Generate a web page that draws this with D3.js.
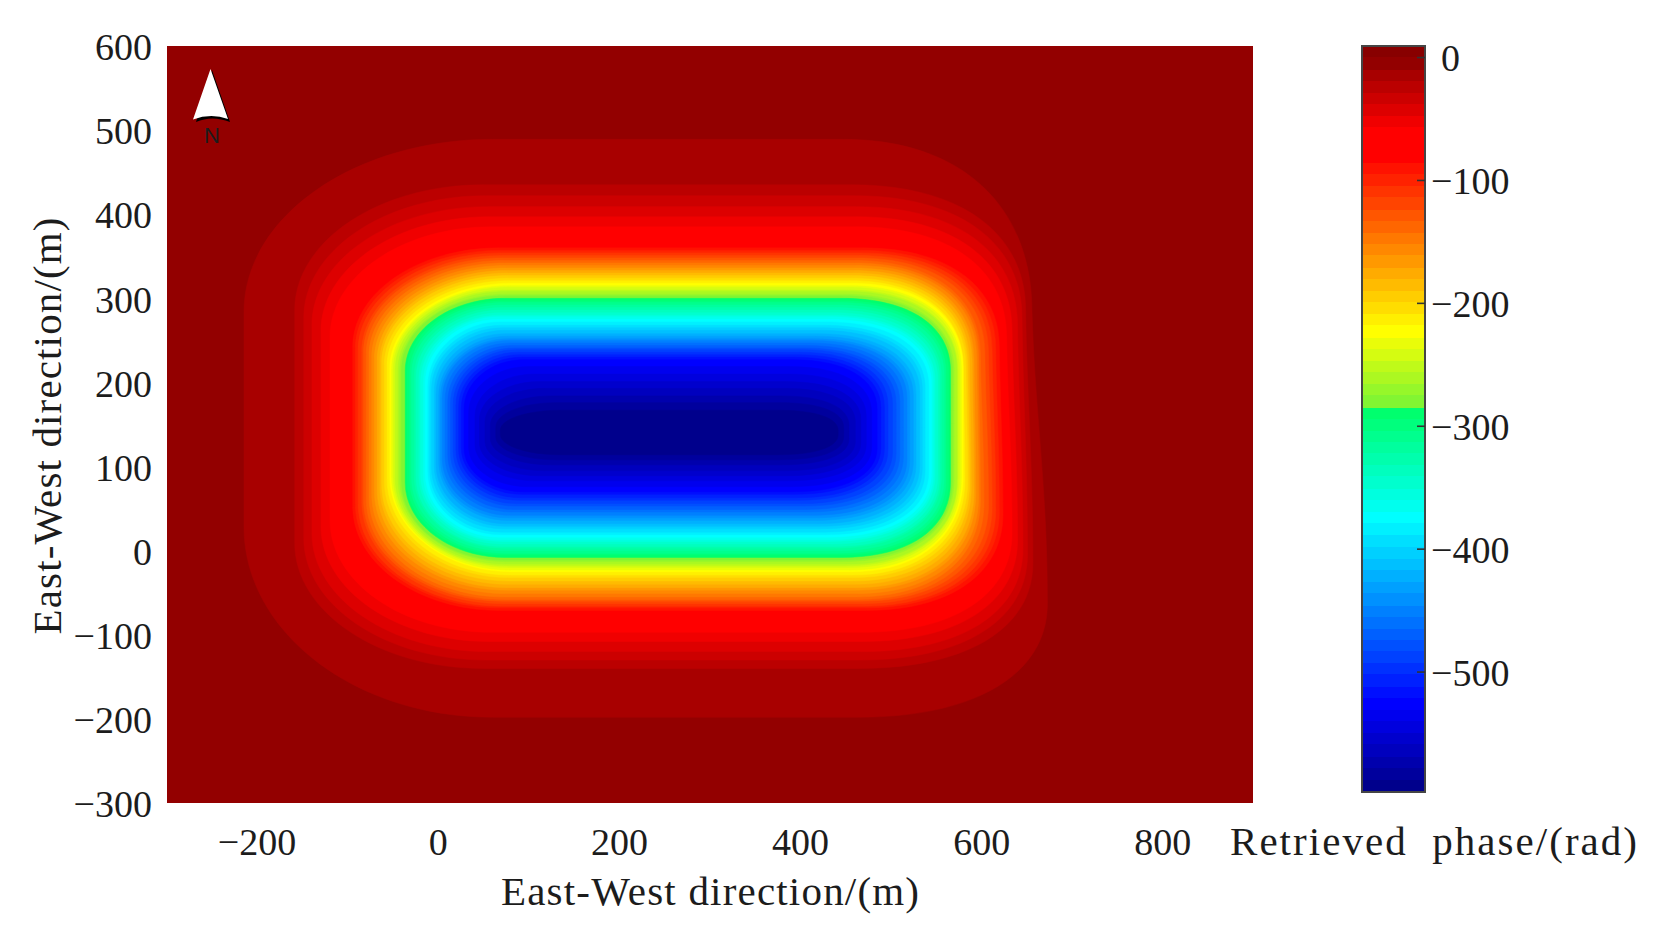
<!DOCTYPE html>
<html>
<head>
<meta charset="utf-8">
<script src="https://d3js.org/d3.v7.min.js"></script>
<style>
html,body{margin:0;padding:0;background:#fff;}
svg{display:block;}
text{font-family:"Liberation Serif",serif;fill:#1c1c1c;}
</style>
</head>
<body>
<svg id="c" width="1656" height="935"></svg>
<script>
// tick labels
const xTicks = [-200, 0, 200, 400, 600, 800];
const yTicks = [-300, -200, -100, 0, 100, 200, 300, 400, 500, 600];
const barTicks = [0, -100, -200, -300, -400, -500];
const xTitle = "East-West direction/(m)";
const yTitle = "East-West direction/(m)";
const barTitle = "Retrieved  phase/(rad)";

// colour stops
const stopValues = [4, -5, -15, -24, -34, -43, -53, -62, -81, -223, -280, -290, -375, -451, -526, -593];
const stopColors = ["#880000","#930000","#a80000","#bb0000","#cc0000","#dd0000","#f00000","#ff0000","#ff0000","#ffff00","#82f532","#00ff6e","#00ffff","#0080ff","#0000ff","#00008c"];

// 64 colour-bar levels (rad)
const barLevels = [4,-5,-15,-24,-34,-43,-53,-62,-72,-81,-91,-100,-110,-119,-129,-138,-148,-157,-166,-176,-185,-195,-204,-214,-223,-233,-242,-252,-261,-271,-280,-290,-299,-309,-318,-327,-337,-346,-356,-365,-375,-384,-394,-403,-413,-422,-432,-441,-451,-460,-470,-479,-488,-498,-507,-517,-526,-536,-545,-555,-564,-574,-583,-593];

// background level of the map
const mapBackground = -5;

// closed iso-phase contours (outer to inner), metres
const contourLevels = [-15,-24,-34,-43,-53,-62,-72,-81,-91,-100,-110,-119,-129,-138,-148,-157,-166,-176,-185,-195,-204,-214,-223,-233,-242,-252,-261,-271,-280,-290,-299,-309,-318,-327,-337,-346,-356,-365,-375,-384,-394,-403,-413,-422,-432,-441,-451,-460,-470,-479,-488,-498,-507,-517,-526,-536,-545,-555,-564,-574,-583,-593];
const contourLeft = [-215,-159,-149,-140,-130,-120,-109,-98,-95,-92,-89,-85,-83,-80,-77,-74,-71,-68,-65,-63,-60,-57,-54,-52,-50,-48,-45,-43,-41,-37,-35,-32,-30,-27,-25,-22,-20,-17,-15,-12,-10,-8,-5,-3,0,2,4,7,10,13,16,19,22,25,28,33,40,45,51,57,63,68];
const contourRight = [672,656,650,645,639,633,630,627,623,619,615,611,607,602,598,596,593,591,588,586,584,581,579,577,575,573,572,569,567,565,563,560,558,555,553,551,548,546,544,541,537,534,531,527,524,520,517,513,509,505,501,496,492,488,484,478,472,466,460,453,447,441];
const contourRightUpper = [655,648,644,639,633,627,624,621,619,615,611,607,603,598,596,594,591,589,586,584,582,579,579,577,575,573,572,569,567,565,563,560,558,555,553,551,548,546,544,541,537,534,531,527,524,520,517,513,509,505,501,496,492,488,484,478,472,466,460,453,447,441];
const contourTop = [489,435,422,409,397,385,374,363,360,357,354,351,348,345,342,339,336,333,330,327,324,321,318,315,313,310,308,305,303,300,297,295,292,289,286,283,280,278,275,272,268,265,262,258,255,252,250,247,244,241,239,236,233,230,227,219,210,201,193,184,176,167];
const contourBottom = [-198,-140,-130,-120,-108,-97,-85,-74,-71,-68,-66,-63,-60,-58,-55,-51,-47,-44,-40,-36,-32,-29,-25,-23,-20,-18,-16,-13,-11,-8,-5,-3,0,3,5,8,11,13,16,19,22,26,29,32,36,39,42,46,49,53,56,60,63,67,70,76,83,89,95,102,108,114];
// corner sizes of those contours, metres
const cornerLeft = [274,208,201,194,186,178,171,164,162,160,158,156,154,152,150,148,146,144,142,140,138,136,135,131,127,124,120,117,113,110,107,104,101,98,95,92,89,85,82,81,80,79,78,77,76,75,74,73,72,71,70,69,68,67,66,66,66,66,66,66,66,66];
const cornerRight = [208,192,185,178,172,166,159,153,151,149,146,144,141,139,137,134,132,131,129,128,127,125,124,124,123,123,122,122,121,120,119,119,118,118,117,117,116,116,115,114,113,111,110,109,108,106,105,104,103,101,100,98,96,95,93,90,86,82,78,74,70,66];
const cornerTop = [205,149,145,141,136,131,125,119,118,117,116,115,113,112,111,110,109,108,106,105,104,102,101,99,97,95,93,91,88,86,85,84,83,82,81,80,79,78,77,76,75,74,73,72,71,70,69,68,67,66,65,63,62,60,59,55,50,45,40,35,29,24];
const cornerBottom = [226,149,145,141,137,133,129,125,124,123,122,121,120,119,119,118,117,117,116,115,115,114,113,110,107,104,100,97,93,89,88,87,86,85,83,82,80,78,77,75,74,73,72,71,70,68,67,66,65,63,62,60,58,55,52,47,43,39,35,31,27,24];
const cornerBottomRight = [135,125,125,122,120,118,116,115,115,115,115,115,115,115,115,115,115,115,115,115,115,114,113,110,107,104,100,97,93,89,88,87,86,85,83,82,80,78,77,75,74,73,72,71,70,68,67,66,65,63,62,60,58,55,52,47,43,39,35,31,27,24];

const svg = d3.select("#c");
const plot = {l:167, r:1253, t:46, b:803};
const bar = {l:1362, r:1425, t:46, b:792};

const x = d3.scaleLinear([-300, 899], [plot.l, plot.r]);
const y = d3.scaleLinear([-300, 600], [plot.b, plot.t]);
const barY = d3.scaleLinear([9, -598], [bar.t, bar.b]);
const color = d3.scaleLinear(stopValues, stopColors).clamp(true);

// map background
svg.append("rect").attr("x", plot.l).attr("y", plot.t)
  .attr("width", plot.r - plot.l).attr("height", plot.b - plot.t)
  .attr("fill", color(mapBackground));

// nested contours, outermost first
const kL = 0.5523, kR = 0.62;
function contourPath(i) {
  const L = x(contourLeft[i]), R = x(contourRight[i]), Ru = x(contourRightUpper[i]);
  const T = y(contourTop[i]), B = y(contourBottom[i]);
  const sx = x(1) - x(0), sy = y(0) - y(1);
  const lx = cornerLeft[i] * sx, rx = cornerRight[i] * sx, ty = cornerTop[i] * sy, by = cornerBottom[i] * sy, byR = cornerBottomRight[i] * sy;
  const yu = T + ty, yl = B - by, ylR = B - byR, span = ylR - yu;
  const p = d3.path();
  p.moveTo(L + lx, T);
  p.lineTo(Ru - rx, T);
  p.bezierCurveTo(Ru - rx + kR * rx, T, Ru, yu - kR * ty, Ru, yu);
  p.bezierCurveTo(Ru + (R - Ru) * 0.2, yu + span * 0.35, R, ylR - span * 0.4, R, ylR);
  p.bezierCurveTo(R, ylR + kR * byR, R - rx + kR * rx, B, R - rx, B);
  p.lineTo(L + lx, B);
  p.bezierCurveTo(L + lx - kL * lx, B, L, yl + kL * by, L, yl);
  p.lineTo(L, T + ty);
  p.bezierCurveTo(L, yu - kL * ty, L + lx - kL * lx, T, L + lx, T);
  p.closePath();
  return p.toString();
}
svg.append("g").attr("class", "contours")
  .selectAll("path").data(contourLevels).join("path")
  .attr("d", (d, i) => contourPath(i))
  .attr("fill", d => color(d))
  .attr("stroke", d => color(d))
  .attr("stroke-width", 0.5);

// axes
const fmt = d => String(d).replace("-", "\u2212");
const gx = svg.append("g").attr("transform", `translate(-1,${plot.b})`)
  .call(d3.axisBottom(x).tickValues(xTicks).tickFormat(fmt).tickSize(0).tickPadding(25));
const gy = svg.append("g").attr("transform", `translate(${plot.l},0)`)
  .call(d3.axisLeft(y).tickValues(yTicks).tickFormat(fmt).tickSize(0).tickPadding(15));
[gx, gy].forEach(g => {
  g.select(".domain").remove();
  g.selectAll("text").attr("font-size", 38).style("font-family", '"Liberation Serif",serif').attr("fill", "#222");
});
gy.selectAll("text").attr("dy", "0.36em");

// colour bar
const bandH = (bar.b - bar.t) / barLevels.length;
svg.append("g").attr("shape-rendering", "crispEdges").selectAll("rect").data(barLevels).join("rect")
  .attr("x", bar.l).attr("width", bar.r - bar.l)
  .attr("y", d => Math.round(barY(d) - bandH / 2)).attr("height", Math.ceil(bandH) + 1)
  .attr("fill", d => color(d));
// keep the last band inside the frame
svg.append("rect").attr("x", bar.l - 1).attr("y", bar.b).attr("width", bar.r - bar.l + 2).attr("height", 14).attr("fill", "#fff");
svg.append("rect").attr("x", bar.l).attr("y", bar.t)
  .attr("width", bar.r - bar.l).attr("height", bar.b - bar.t)
  .attr("fill", "none").attr("stroke", "#454545").attr("stroke-width", 2);
const gb = svg.append("g").attr("transform", `translate(${bar.r},0)`)
  .call(d3.axisRight(barY).tickValues(barTicks).tickFormat(fmt).tickSize(-8).tickPadding(6));
gb.select(".domain").remove();
gb.selectAll("line").attr("stroke", "#333").attr("stroke-width", 1.6);
gb.selectAll("text").attr("font-size", 38).style("font-family", '"Liberation Serif",serif').attr("fill", "#222").attr("dy", "0.36em");
gb.selectAll("text").filter(d => d === 0).attr("x", 16);

// titles
svg.append("text").attr("x", 710).attr("y", 905).attr("text-anchor", "middle")
  .attr("font-size", 41).attr("textLength", 418).attr("lengthAdjust", "spacing").text(xTitle);
svg.append("text").attr("transform", "translate(61,426) rotate(-90)").attr("text-anchor", "middle")
  .attr("font-size", 41).attr("textLength", 417).attr("lengthAdjust", "spacing").text(yTitle);
svg.append("text").attr("x", 1230).attr("y", 855).attr("font-size", 41)
  .attr("xml:space", "preserve").style("white-space", "pre")
  .attr("textLength", 407).attr("lengthAdjust", "spacing").text(barTitle);

// north arrow
const na = svg.append("g");
na.append("path").attr("d", "M212,70 L230,122 Q212,115 196,122 Z").attr("fill", "#000");
na.append("path").attr("d", "M210.5,69 L228,119 Q211,113 193,119.5 Z").attr("fill", "#fff");
na.append("text").attr("x", 212).attr("y", 143).attr("text-anchor", "middle")
  .attr("font-size", 22).style("font-family", '"Liberation Sans",sans-serif').attr("fill", "#000").text("N");
</script>
</body>
</html>
